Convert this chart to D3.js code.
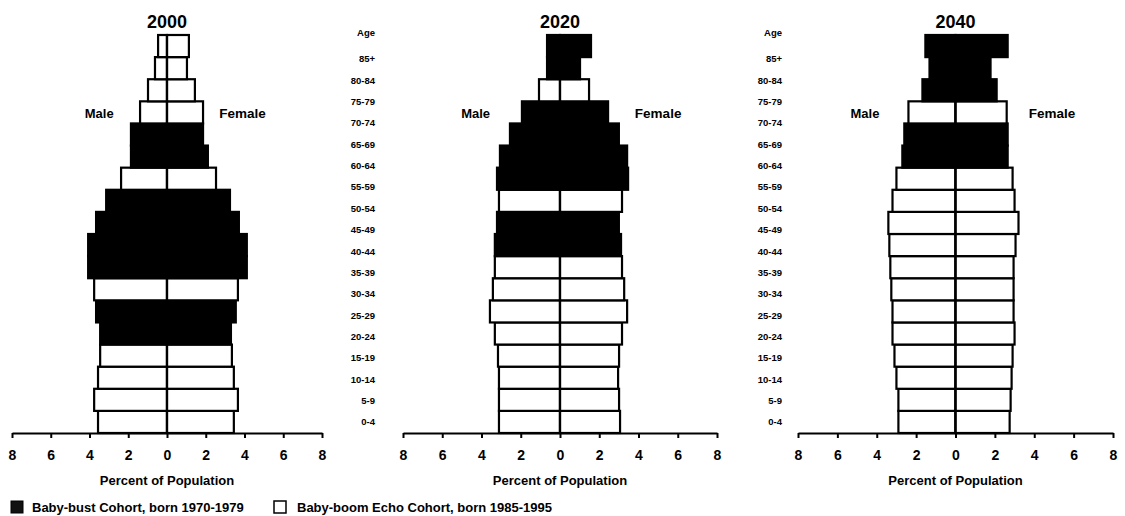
<!DOCTYPE html>
<html>
<head>
<meta charset="utf-8">
<script src="https://cdn.jsdelivr.net/npm/d3@7/dist/d3.min.js"></script>
<style>
    body { margin: 0; background: #fff; }
    text { font-family: "Liberation Sans", Arial, sans-serif; font-weight: bold; fill: #000; }
</style>
</head>
<body>
<div id="my_dataviz"></div>
<script>
// age groups, youngest first
var ages = ["0-4", "5-9", "10-14", "15-19", "20-24", "25-29", "30-34", "35-39", "40-44",
    "45-49", "50-54", "55-59", "60-64", "65-69", "70-74", "75-79", "80-84", "85+"];

var years = ["2000", "2020", "2040"];

// percent of population
var male2000 = [3.56, 3.76, 3.56, 3.45, 3.45, 3.66, 3.76, 4.07, 4.07, 3.66, 3.14, 2.37, 1.86, 1.86, 1.39, 0.98, 0.62, 0.46];
var female2000 = [3.45, 3.66, 3.45, 3.35, 3.3, 3.55, 3.66, 4.12, 4.12, 3.71, 3.25, 2.53, 2.11, 1.86, 1.86, 1.44, 1.03, 1.13];
var shade2000 = [0, 0, 0, 0, 1, 1, 0, 1, 1, 1, 1, 0, 1, 1, 0, 0, 0, 0];

var male2020 = [3.11, 3.11, 3.11, 3.16, 3.32, 3.57, 3.42, 3.32, 3.32, 3.21, 3.11, 3.21, 3.06, 2.55, 1.94, 1.07, 0.66, 0.66];
var female2020 = [3.06, 3.01, 2.96, 3.01, 3.16, 3.42, 3.27, 3.16, 3.11, 3.0, 3.16, 3.47, 3.42, 3.0, 2.45, 1.48, 1.02, 1.58];
var shade2020 = [0, 0, 0, 0, 0, 0, 0, 0, 1, 1, 0, 1, 1, 1, 1, 0, 1, 1];

var male2040 = [2.9, 2.9, 3.0, 3.1, 3.2, 3.2, 3.26, 3.31, 3.36, 3.41, 3.2, 3.0, 2.7, 2.6, 2.39, 1.68, 1.32, 1.53];
var female2040 = [2.75, 2.8, 2.85, 2.9, 3.0, 2.95, 2.95, 2.95, 3.05, 3.2, 3.0, 2.9, 2.65, 2.65, 2.6, 2.09, 1.78, 2.65];
var shade2040 = [0, 0, 0, 0, 0, 0, 0, 0, 0, 0, 0, 0, 1, 1, 0, 1, 1, 1];

var tickValues = [-8, -6, -4, -2, 0, 2, 4, 6, 8];
var legendLabels = ["Baby-bust Cohort, born 1970-1979", "Baby-boom Echo Cohort, born 1985-1995"];

var width = 1125,
    height = 516;

var svg = d3.select("#my_dataviz")
    .append("svg")
    .attr("width", width)
    .attr("height", height);

// one entry per pyramid, with where it sits on the page
var panels = [
    { year: years[0], male: male2000, female: female2000, shade: shade2000, left: 12, right: 322, maleAt: -3.5, femaleAt: 3.9 },
    { year: years[1], male: male2020, female: female2020, shade: shade2020, left: 403, right: 717, maleAt: -4.3, femaleAt: 5.0 },
    { year: years[2], male: male2040, female: female2040, shade: shade2040, left: 798, right: 1113, maleAt: -4.6, femaleAt: 4.9 }
];

var axisY = 433;
var rows = ages.slice().reverse();

var y = d3.scaleBand()
    .domain(rows)
    .range([35, axisY])
    .padding(0);

// the age labels are spaced a bit tighter than the bars
var ageY = d3.scalePoint()
    .domain(rows)
    .range([59, 422]);

panels.forEach(function(p) {
    var x = d3.scaleLinear()
        .domain([-8, 8])
        .range([p.left, p.right]);

    var g = svg.append("g");

    var data = ages.map(function(a, i) {
        return { age: a, m: p.male[i], f: p.female[i], s: p.shade[i] };
    });

    // male bars
    g.selectAll(".m")
        .data(data)
        .enter()
        .append("rect")
        .attr("x", function(d) { return x(-d.m); })
        .attr("y", function(d) { return y(d.age); })
        .attr("width", function(d) { return x(0) - x(-d.m); })
        .attr("height", y.bandwidth())
        .style("fill", function(d) { return d.s ? "#000" : "#fff"; })
        .attr("stroke", "#000")
        .attr("stroke-width", 2.2);

    // female bars
    g.selectAll(".f")
        .data(data)
        .enter()
        .append("rect")
        .attr("x", x(0))
        .attr("y", function(d) { return y(d.age); })
        .attr("width", function(d) { return x(d.f) - x(0); })
        .attr("height", y.bandwidth())
        .style("fill", function(d) { return d.s ? "#000" : "#fff"; })
        .attr("stroke", "#000")
        .attr("stroke-width", 2.2);

    // centre line
    g.append("line")
        .attr("x1", x(0)).attr("x2", x(0))
        .attr("y1", y.range()[0]).attr("y2", axisY)
        .attr("stroke", "#000")
        .attr("stroke-width", 2.2);

    // X axis
    var ax = g.append("g")
        .attr("transform", "translate(0," + axisY + ")")
        .call(d3.axisBottom(x)
            .tickValues(tickValues)
            .tickFormat(function(d) { return Math.abs(d); })
            .tickSize(5)
            .tickSizeOuter(0)
            .tickPadding(12));
    ax.select(".domain").attr("stroke-width", 2.2);
    ax.selectAll(".tick line").attr("stroke-width", 2);
    ax.selectAll(".tick text")
        .style("font-size", "14px")
        .style("font-family", "Liberation Sans, Arial, sans-serif")
        .style("font-weight", "bold");

    g.append("text")
        .attr("x", x(0))
        .attr("y", 485)
        .attr("text-anchor", "middle")
        .style("font-size", "13px")
        .text("Percent of Population");

    // year title
    g.append("text")
        .attr("x", x(0))
        .attr("y", 28)
        .attr("text-anchor", "middle")
        .style("font-size", "18px")
        .text(p.year);

    g.append("text")
        .attr("x", x(p.maleAt))
        .attr("y", 118)
        .attr("text-anchor", "middle")
        .style("font-size", "13px")
        .text("Male");

    g.append("text")
        .attr("x", x(p.femaleAt))
        .attr("y", 118)
        .attr("text-anchor", "middle")
        .style("font-size", "13.5px")
        .text("Female");
});

// age label columns between the pyramids
[375, 782].forEach(function(right) {
    var col = svg.append("g");
    col.append("text")
        .attr("x", right)
        .attr("y", 33)
        .attr("dy", "0.35em")
        .attr("text-anchor", "end")
        .style("font-size", "9.5px")
        .text("Age");
    col.selectAll(".age")
        .data(rows)
        .enter()
        .append("text")
        .attr("x", right)
        .attr("y", function(d) { return ageY(d); })
        .attr("dy", "0.35em")
        .attr("text-anchor", "end")
        .style("font-size", "9.5px")
        .text(function(d) { return d; });
});

// legend
var legend = svg.append("g");
legend.append("rect")
    .attr("x", 11).attr("y", 501)
    .attr("width", 12).attr("height", 12)
    .style("fill", "#111")
    .attr("stroke", "#000");
legend.append("text")
    .attr("x", 32).attr("y", 512)
    .style("font-size", "13px")
    .text(legendLabels[0]);
legend.append("rect")
    .attr("x", 274).attr("y", 501)
    .attr("width", 12).attr("height", 12)
    .style("fill", "#fff")
    .attr("stroke", "#000")
    .attr("stroke-width", 1.5);
legend.append("text")
    .attr("x", 297).attr("y", 512)
    .style("font-size", "13px")
    .text(legendLabels[1]);
</script>
</body>
</html>
